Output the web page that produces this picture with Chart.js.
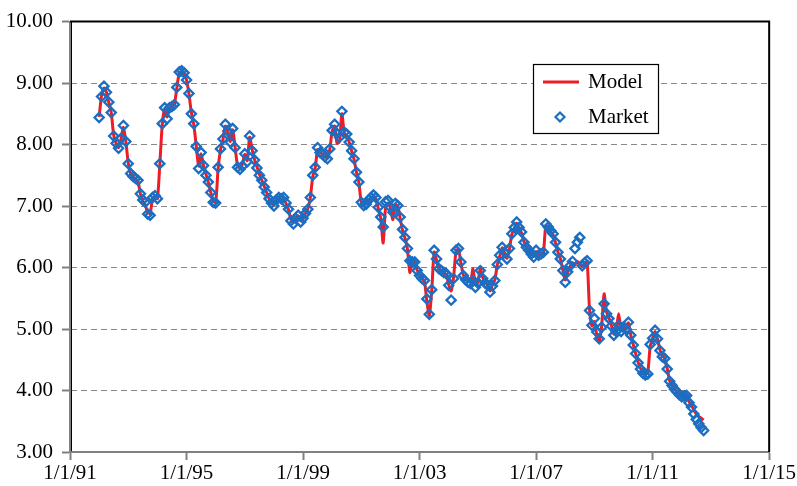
<!DOCTYPE html>
<html>
<head>
<meta charset="utf-8">
<script src="https://cdn.jsdelivr.net/npm/chart.js@4.4.1/dist/chart.umd.min.js"></script>
<style>
  html, body { margin: 0; padding: 0; background: #ffffff; }
  #wrap { width: 797px; height: 486px; }
</style>
</head>
<body>
<div id="wrap"><canvas id="chart" width="797" height="486"></canvas></div>
<script>
// Monthly observations, starting January 1992 (one row per year).
const firstYear = 1992;

const marketValues = [
  8.44, 8.78, 8.95, 8.85, 8.69, 8.52, 8.14, 8.02, 7.94, 8.10, 8.31, 8.05, // 1992
  7.69, 7.53, 7.48, 7.45, 7.42, 7.20, 7.10, 7.06, 6.87, 6.85, 7.14, 7.17, // 1993
  7.12, 7.69, 8.34, 8.60, 8.42, 8.60, 8.62, 8.65, 8.93, 9.18, 9.20, 9.17, // 1994
  9.05, 8.83, 8.50, 8.34, 7.97, 7.61, 7.87, 7.66, 7.50, 7.39, 7.22, 7.06, // 1995
  7.05, 7.63, 7.93, 8.09, 8.33, 8.22, 8.04, 8.26, 7.95, 7.63, 7.60, 7.65, // 1996
  7.85, 7.72, 8.14, 7.90, 7.75, 7.62, 7.50, 7.42, 7.31, 7.22, 7.12, 7.05, // 1997
  7.00, 7.10, 7.14, 7.12, 7.14, 7.05, 6.95, 6.76, 6.71, 6.80, 6.85, 6.74, // 1998
  6.80, 6.88, 6.95, 7.14, 7.50, 7.63, 7.95, 7.87, 7.85, 7.80, 7.77, 7.93, // 1999
  8.23, 8.33, 8.18, 8.12, 8.54, 8.20, 8.17, 8.04, 7.90, 7.77, 7.55, 7.39, // 2000
  7.06, 7.01, 7.03, 7.10, 7.14, 7.18, 7.14, 6.98, 6.82, 6.66, 7.07, 7.09, // 2001
  6.98, 6.90, 7.04, 7.01, 6.82, 6.62, 6.49, 6.31, 6.11, 6.09, 6.09, 5.95, // 2002
  5.87, 5.82, 5.79, 5.49, 5.24, 5.64, 6.28, 6.14, 5.98, 5.95, 5.92, 5.90, // 2003
  5.71, 5.47, 5.82, 6.28, 6.31, 6.09, 5.87, 5.80, 5.76, 5.74, 5.79, 5.68, // 2004
  5.75, 5.95, 5.82, 5.75, 5.71, 5.60, 5.70, 5.79, 6.05, 6.20, 6.33, 6.25, // 2005
  6.14, 6.31, 6.55, 6.65, 6.74, 6.65, 6.58, 6.41, 6.33, 6.28, 6.22, 6.17, // 2006
  6.28, 6.20, 6.22, 6.25, 6.71, 6.66, 6.60, 6.55, 6.41, 6.25, 6.14, 5.95, // 2007
  5.76, 5.93, 6.03, 6.10, 6.31, 6.41, 6.49, 6.03, 6.08, 6.11, 5.30, 5.06, // 2008
  5.17, 4.95, 4.84, 5.03, 5.41, 5.25, 5.17, 5.05, 4.90, 4.96, 5.06, 4.96, // 2009
  5.03, 5.00, 5.11, 4.90, 4.74, 4.60, 4.45, 4.35, 4.28, 4.25, 4.27, 4.75, // 2010
  4.85, 4.98, 4.84, 4.65, 4.55, 4.52, 4.35, 4.15, 4.08, 4.02, 3.98, 3.93, // 2011
  3.90, 3.91, 3.92, 3.80, 3.73, 3.62, 3.53, 3.46, 3.40, 3.35              // 2012
];

const modelValues = [
  8.45, 8.80, 8.92, 8.85, 8.68, 8.52, 8.15, 8.02, 7.95, 8.08, 8.28, 8.05, // 1992
  7.70, 7.52, 7.47, 7.44, 7.40, 7.20, 7.08, 7.02, 6.90, 6.88, 7.12, 7.16, // 1993
  7.12, 7.68, 8.32, 8.58, 8.45, 8.58, 8.62, 8.66, 8.92, 9.16, 9.19, 9.16, // 1994
  9.05, 8.82, 8.52, 8.32, 7.98, 7.65, 7.85, 7.66, 7.52, 7.38, 7.22, 7.08, // 1995
  7.06, 7.60, 7.92, 8.08, 8.30, 8.20, 8.05, 8.24, 7.96, 7.66, 7.62, 7.68, // 1996
  7.84, 7.74, 8.12, 7.92, 7.76, 7.64, 7.52, 7.42, 7.32, 7.22, 7.12, 7.06, // 1997
  7.02, 7.10, 7.13, 7.12, 7.12, 7.04, 6.94, 6.78, 6.73, 6.80, 6.84, 6.76, // 1998
  6.80, 6.88, 6.96, 7.14, 7.48, 7.62, 7.92, 7.88, 7.84, 7.80, 7.78, 7.92, // 1999
  8.22, 8.30, 8.02, 8.05, 8.50, 8.18, 8.15, 8.04, 7.90, 7.76, 7.55, 7.38, // 2000
  7.06, 7.02, 7.04, 7.10, 7.13, 7.16, 7.12, 6.96, 6.80, 6.40, 6.98, 7.05, // 2001
  6.96, 6.78, 7.02, 7.00, 6.80, 6.60, 6.48, 6.30, 5.92, 6.08, 6.07, 5.96, // 2002
  5.88, 5.82, 5.78, 5.45, 5.22, 5.62, 6.25, 6.12, 5.98, 5.95, 5.92, 5.88, // 2003
  5.72, 5.62, 5.84, 6.26, 6.30, 6.08, 5.88, 5.82, 5.78, 5.76, 5.98, 5.72, // 2004
  5.76, 5.98, 5.84, 5.76, 5.72, 5.62, 5.72, 5.80, 6.04, 6.18, 6.32, 6.24, // 2005
  6.15, 6.30, 6.54, 6.64, 6.72, 6.64, 6.56, 6.42, 6.34, 6.28, 6.22, 6.18, // 2006
  6.26, 6.20, 6.22, 6.25, 6.68, 6.64, 6.58, 6.53, 6.40, 6.25, 6.14, 5.96, // 2007
  5.80, 5.92, 6.02, 6.08, 6.05, 6.10, 6.05, 6.02, 6.06, 6.10, 5.32, 5.05, // 2008
  5.12, 4.90, 4.79, 5.05, 5.57, 5.28, 5.18, 5.06, 4.92, 4.98, 5.25, 4.98, // 2009
  5.02, 5.00, 5.10, 4.90, 4.75, 4.60, 4.46, 4.36, 4.30, 4.26, 4.30, 4.72, // 2010
  4.85, 4.96, 4.84, 4.66, 4.56, 4.52, 4.36, 4.16, 4.08, 4.02, 3.98, 3.94, // 2011
  3.91, 3.92, 3.92, 3.82, 3.76, 3.68, 3.62, 3.58, 3.55, 3.52              // 2012
];

const xTickYears  = [1991, 1995, 1999, 2003, 2007, 2011, 2015];
const xTickLabels = ['1/1/91', '1/1/95', '1/1/99', '1/1/03', '1/1/07', '1/1/11', '1/1/15'];
const yTickValues = [3, 4, 5, 6, 7, 8, 9, 10];
const seriesNames = ['Model', 'Market'];

const RED = '#ee1c24';
const BLUE = '#1b6ec2';
const AXIS_GREY = '#808080';
const FONT = { family: "'Liberation Serif', 'Times New Roman', serif", size: 21 };

const toPoints = vals => vals.map((v, i) => ({ x: firstYear + i / 12, y: v }));

// Black frame on the top and right of the plot area, plus a thin inner edge on the value axis.
const framePlugin = {
  id: 'frame',
  beforeDatasetsDraw(chart) {
    const { ctx, chartArea: a } = chart;
    ctx.save();
    ctx.strokeStyle = '#000';
    ctx.lineWidth = 2;
    ctx.beginPath();
    ctx.moveTo(a.left, a.top);
    ctx.lineTo(a.right, a.top);
    ctx.lineTo(a.right, a.bottom);
    ctx.stroke();
    ctx.lineWidth = 1;
    ctx.beginPath();
    ctx.moveTo(a.left + 1.5, a.top);
    ctx.lineTo(a.left + 1.5, a.bottom - 1);
    ctx.stroke();
    ctx.restore();
  }
};

// Boxed legend placed inside the plot area.
const boxLegendPlugin = {
  id: 'boxLegend',
  afterDraw(chart) {
    const { ctx } = chart;
    const bx = 533, by = 64, bw = 125, bh = 69;
    ctx.save();
    ctx.fillStyle = '#fff';
    ctx.fillRect(bx, by, bw, bh);
    ctx.strokeStyle = '#000';
    ctx.lineWidth = 1.2;
    ctx.strokeRect(bx + 0.5, by + 0.5, bw, bh);

    // Model entry
    ctx.strokeStyle = RED;
    ctx.lineWidth = 3;
    ctx.beginPath();
    ctx.moveTo(543, 82);
    ctx.lineTo(579, 82);
    ctx.stroke();

    // Market entry
    ctx.strokeStyle = BLUE;
    ctx.fillStyle = '#fff';
    ctx.lineWidth = 2.2;
    ctx.beginPath();
    ctx.moveTo(560, 112.5); ctx.lineTo(564.5, 117); ctx.lineTo(560, 121.5); ctx.lineTo(555.5, 117);
    ctx.closePath();
    ctx.fill();
    ctx.stroke();

    ctx.fillStyle = '#000';
    ctx.font = `${FONT.size}px ${FONT.family}`;
    ctx.textBaseline = 'middle';
    ctx.textAlign = 'left';
    ctx.fillText(seriesNames[0], 588, 82);
    ctx.fillText(seriesNames[1], 588, 117);
    ctx.restore();
  }
};

new Chart(document.getElementById('chart'), {
  type: 'scatter',
  data: {
    datasets: [
      {
        label: seriesNames[1],
        data: toPoints(marketValues),
        showLine: false,
        pointStyle: 'rectRot',
        pointRadius: 4.6,
        pointBorderWidth: 2.3,
        pointBorderColor: BLUE,
        pointBackgroundColor: 'rgba(255,255,255,0)'
      },
      {
        label: seriesNames[0],
        data: toPoints(modelValues),
        showLine: true,
        borderColor: RED,
        borderWidth: 3,
        tension: 0.25,
        pointRadius: 0
      }
    ]
  },
  options: {
    responsive: false,
    devicePixelRatio: 1,
    animation: false,
    layout: { padding: { top: 20, right: 27, left: 0, bottom: 0 } },
    plugins: { legend: { display: false }, tooltip: { enabled: false } },
    scales: {
      x: {
        type: 'linear',
        min: 1991,
        max: 2015,
        afterBuildTicks: s => { s.ticks = xTickYears.map(v => ({ value: v })); },
        afterFit: s => { s.height = 34; },
        ticks: {
          font: FONT,
          color: '#000',
          maxRotation: 0,
          autoSkip: false,
          padding: 1,
          callback: v => xTickLabels[xTickYears.indexOf(v)]
        },
        grid: {
          drawOnChartArea: false,
          drawTicks: true,
          tickLength: 8,
          tickColor: AXIS_GREY,
          tickWidth: 2
        },
        border: { color: AXIS_GREY, width: 2 }
      },
      y: {
        min: 3,
        max: 10,
        afterBuildTicks: s => { s.ticks = yTickValues.map(v => ({ value: v })); },
        afterFit: s => { s.width = 70; },
        ticks: {
          font: FONT,
          color: '#000',
          padding: 9,
          callback: v => v.toFixed(2)
        },
        grid: {
          color: '#888888',
          lineWidth: 1,
          drawTicks: true,
          tickLength: 8,
          tickColor: AXIS_GREY,
          tickWidth: 2
        },
        border: { color: AXIS_GREY, width: 2, dash: [6, 4] }
      }
    }
  },
  plugins: [framePlugin, boxLegendPlugin]
});
</script>
</body>
</html>
